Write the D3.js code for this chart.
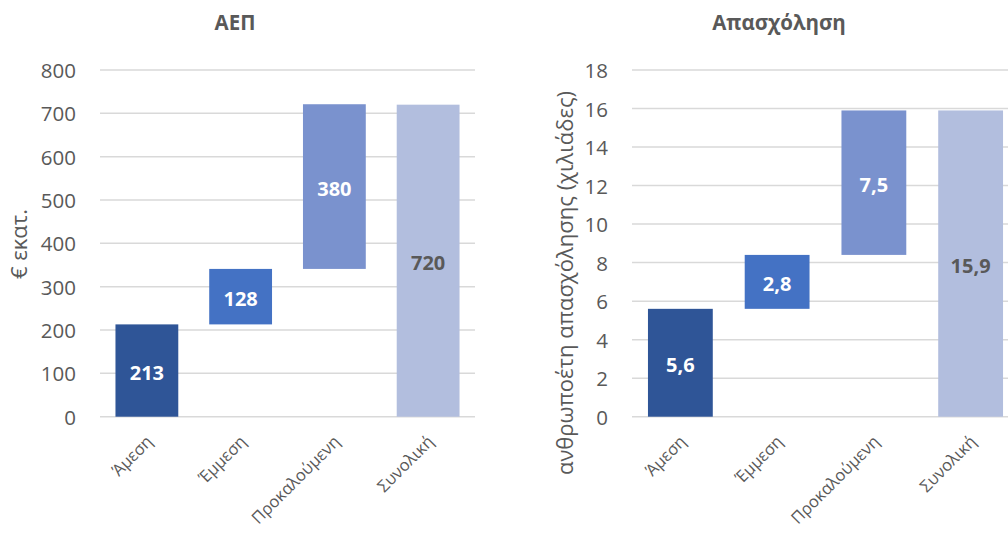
<!DOCTYPE html>
<html>
<head>
<meta charset="utf-8">
<script src="https://cdn.jsdelivr.net/npm/d3@7"></script>
<style>
  html, body { margin: 0; padding: 0; background: #fff; }
  svg { display: block; font-family: "Open Sans", "Noto Sans", sans-serif; }
</style>
</head>
<body>
<svg id="chart" width="1008" height="536"></svg>
<script>
// ---- data ----
const categories = ["Άμεση", "Έμμεση", "Προκαλούμενη", "Συνολική"];
const gdpValues = [213, 128, 380, 720];
const gdpLabels = ["213", "128", "380", "720"];
const gdpTicks = [0, 100, 200, 300, 400, 500, 600, 700, 800];
const jobValues = [5.6, 2.8, 7.5, 15.9];
const jobLabels = ["5,6", "2,8", "7,5", "15,9"];
const jobTicks = [0, 2, 4, 6, 8, 10, 12, 14, 16, 18];
const barColors = ["#2F5597", "#4472C4", "#7A92CE", "#B2BEDE"];
const labelColors = ["#ffffff", "#ffffff", "#ffffff", "#595959"];

const svg = d3.select("#chart");
const textColor = "#595959";
const gridColor = "#d9d9d9";

function waterfall(values) {
  // first n-1 are increments, last is total
  let cum = 0;
  return values.map((v, i) => {
    if (i === values.length - 1) return { start: 0, end: v, v };
    const s = cum; cum += v;
    return { start: s, end: cum, v };
  });
}

function drawChart(opt) {
  const g = svg.append("g");
  const x = d3.scaleBand().domain(categories).range(opt.xRange)
    .paddingInner(0.33).paddingOuter(0.165);
  const y = d3.scaleLinear().domain([0, opt.max]).range([416.7, 70]);

  // gridlines
  g.selectAll("line.grid").data(opt.ticks).join("line")
    .attr("x1", opt.xRange[0]).attr("x2", opt.xRange[1])
    .attr("y1", d => y(d)).attr("y2", d => y(d))
    .attr("stroke", gridColor).attr("stroke-width", 1.5);

  // y tick labels
  g.selectAll("text.tick").data(opt.ticks).join("text")
    .attr("x", opt.tickX).attr("y", d => y(d))
    .attr("text-anchor", "end").attr("dominant-baseline", "central")
    .attr("fill", textColor).attr("font-size", 20.5)
    .text(d => d);

  const segs = waterfall(opt.values);
  g.selectAll("rect.bar").data(segs).join("rect")
    .attr("x", (d, i) => x(categories[i]))
    .attr("width", x.bandwidth())
    .attr("y", d => y(d.end))
    .attr("height", d => y(d.start) - y(d.end))
    .attr("fill", (d, i) => barColors[i]);

  // data labels
  g.selectAll("text.lab").data(segs).join("text")
    .attr("x", (d, i) => x(categories[i]) + x.bandwidth() / 2)
    .attr("y", d => (y(d.start) + y(d.end)) / 2 + 2)
    .attr("text-anchor", "middle").attr("dominant-baseline", "central")
    .attr("font-weight", "bold").attr("font-size", 20)
    .attr("fill", (d, i) => labelColors[i])
    .text((d, i) => opt.labels[i]);

  // category labels rotated
  g.selectAll("text.cat").data(categories).join("text")
    .attr("transform", d => `translate(${x(d) + x.bandwidth() / 2 + 2},${438}) rotate(-45)`)
    .attr("text-anchor", "end").attr("dominant-baseline", "central")
    .attr("fill", textColor).attr("font-size", 16.5)
    .text(d => d);

  // title
  g.append("text").attr("x", opt.titleX).attr("y", 30)
    .attr("text-anchor", "middle").attr("font-weight", "bold")
    .attr("font-size", 20.5).attr("fill", textColor).text(opt.title);

  // y axis title
  g.append("text")
    .attr("transform", `translate(${opt.yTitleX},${opt.yTitleY}) rotate(-90)`)
    .attr("text-anchor", "middle").attr("dominant-baseline", "central")
    .attr("fill", textColor).attr("font-size", 22)
    .text(opt.yTitle);
}

drawChart({
  values: gdpValues, labels: gdpLabels, ticks: gdpTicks, max: 800,
  xRange: [100, 475], tickX: 76, title: "ΑΕΠ", titleX: 235,
  yTitle: "€ εκατ.", yTitleX: 18, yTitleY: 244
});
drawChart({
  values: jobValues, labels: jobLabels, ticks: jobTicks, max: 18,
  xRange: [632, 1019], tickX: 608, title: "Απασχόληση", titleX: 779,
  yTitle: "ανθρωποέτη απασχόλησης (χιλιάδες)", yTitleX: 564, yTitleY: 283
});
</script>
</body>
</html>
